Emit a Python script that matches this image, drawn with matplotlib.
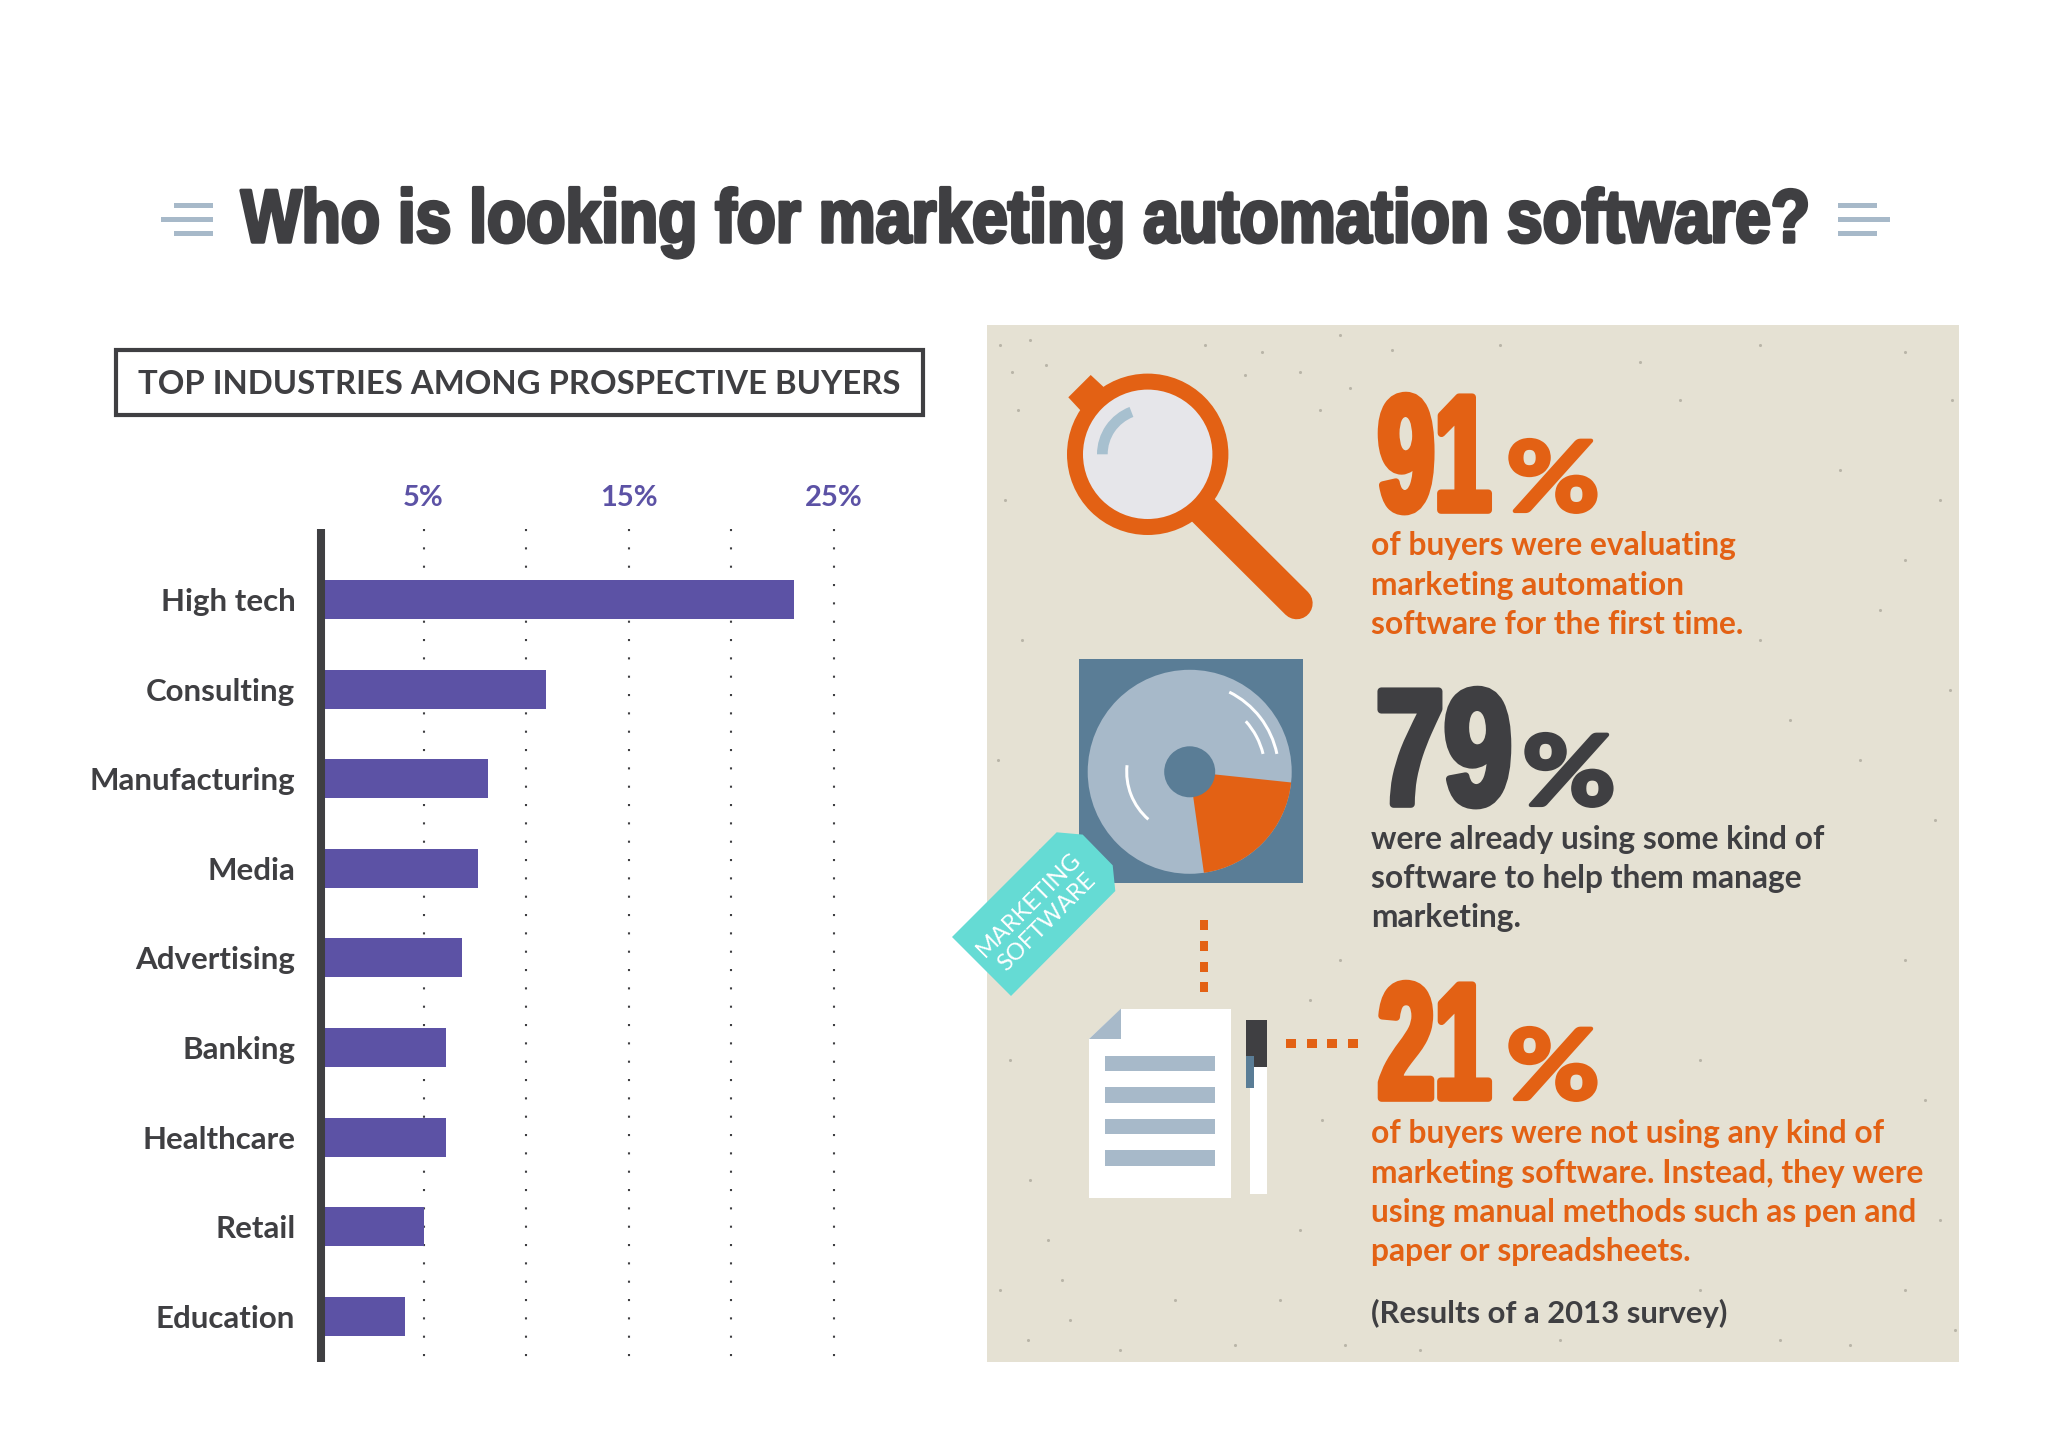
import matplotlib
matplotlib.use('Agg')
import matplotlib.pyplot as plt
import matplotlib.patheffects as pe
from matplotlib.patches import Circle, Polygon, Rectangle, Wedge
from matplotlib.text import Text
from matplotlib.transforms import Affine2D, Bbox

W, H = 2048, 1440

# colours
DARK = '#3f3f42'
ORANGE = '#e36114'
PURPLE = '#5c52a5'
PANEL = '#e5e1d3'
STEEL = '#5a7d96'
PALE = '#a7b9c9'
TEAL = '#65dbd4'

DISPLAY = ['Liberation Sans', 'DejaVu Sans']
BODY = ['Lato', 'DejaVu Sans']

# data
industries = ['High tech', 'Consulting', 'Manufacturing', 'Media', 'Advertising',
              'Banking', 'Healthcare', 'Retail', 'Education']
shares = [23.07, 10.97, 8.14, 7.66, 6.9, 6.1, 6.1, 5.0, 4.1]
grid_values = [5, 10, 15, 20, 25]
tick_values = [5, 15, 25]
tick_labels = ['5%', '15%', '25%']

title = 'Who is looking for marketing automation software?'
box_title = 'TOP INDUSTRIES AMONG PROSPECTIVE BUYERS'

stat_91 = ['of buyers were evaluating', 'marketing automation', 'software for the first time.']
stat_79 = ['were already using some kind of', 'software to help them manage', 'marketing.']
stat_21 = ['of buyers were not using any kind of', 'marketing software. Instead, they were',
           'using manual methods such as pen and', 'paper or spreadsheets.']
footnote = '(Results of a 2013 survey)'

# a few paper flecks on the panel, (x, y) in pixels
flecks = [(1000, 345), (1012, 372), (1030, 340), (1245, 375), (1262, 352), (1300, 372),
          (1320, 410), (1392, 350), (1500, 345), (1640, 362), (1760, 345), (1905, 352),
          (1952, 400), (1940, 500), (1880, 610), (1950, 690), (1790, 720), (1935, 820),
          (1005, 500), (1022, 640), (998, 760), (1040, 850), (1010, 1060), (1030, 1180),
          (1000, 1290), (1028, 1340), (1070, 1320), (1120, 1350), (1175, 1300), (1235, 1345),
          (1300, 1230), (1420, 1350), (1560, 1340), (1700, 1290), (1850, 1345), (1955, 1330),
          (1925, 1100), (1700, 1060), (1340, 960), (1322, 1120), (1018, 410), (1046, 365),
          (1205, 345), (1340, 335), (1350, 388), (1680, 400), (1840, 470), (1905, 560),
          (1760, 640), (1860, 760), (1905, 960), (1940, 1220), (1048, 1240), (1062, 1280),
          (1280, 1300), (1345, 1345), (1490, 1315), (1780, 1340), (1905, 1290), (1310, 1000)]


class Squeeze(pe.AbstractPathEffect):
    """Narrows the glyphs around x0 and thickens them, no narrow bold font is installed."""

    def __init__(self, sx, x0, stroke, color):
        super().__init__()
        self.sx, self.x0, self.stroke, self.color = sx, x0, stroke, color

    def draw_path(self, renderer, gc, tpath, affine, rgbFace=None):
        narrow = affine + Affine2D().translate(-self.x0, 0).scale(self.sx, 1).translate(self.x0, 0)
        gc0 = renderer.new_gc()
        gc0.copy_properties(gc)
        gc0.set_linewidth(self.stroke)
        gc0.set_foreground(self.color)
        renderer.draw_path(gc0, tpath, narrow, rgbFace)
        gc0.restore()


class NarrowText(Text):
    sx = 1.0
    pivot = 0.0

    def get_window_extent(self, renderer=None, dpi=None):
        bb = super().get_window_extent(renderer, dpi)
        p = self.pivot
        return Bbox.from_extents(p + (bb.x0 - p) * self.sx, bb.y0, p + (bb.x1 - p) * self.sx, bb.y1)


def narrow_text(ax, fig, s, x0, x1, baseline, size, family, color, stroke, anchor='left'):
    # fit the text between x0 and x1 pixels, pixels and display units agree at this dpi
    pivot = {'left': x0, 'center': (x0 + x1) / 2, 'right': x1}[anchor]
    t = NarrowText(pivot, baseline, s, ha=anchor, va='baseline', fontsize=size, fontweight='bold',
                   family=family, color=color, zorder=3)
    ax.add_artist(t)
    width = t.get_window_extent(fig.canvas.get_renderer()).width
    t.sx = (x1 - x0) / width
    t.pivot = pivot
    t.set_path_effects([Squeeze(t.sx, pivot, stroke, color)])
    return t


def main():
    fig = plt.figure(figsize=(W / 100, H / 100), dpi=100, facecolor='white')

    # full page layer in pixel coordinates for the illustration side
    bg = fig.add_axes([0, 0, 1, 1], zorder=0)
    bg.set_xlim(0, W)
    bg.set_ylim(H, 0)
    bg.axis('off')

    def rect(x0, y0, x1, y1, color, z=2):
        bg.add_patch(Rectangle((x0, y0), x1 - x0, y1 - y0, facecolor=color, edgecolor='none', zorder=z))

    # title with its little dashes
    narrow_text(bg, fig, title, 241, 1810, 242, 54, DISPLAY, DARK, 2.5, anchor='center')
    for x0, x1, y in [(174, 213, 205), (161, 213, 219), (174, 213, 233),
                      (1838, 1877, 205), (1838, 1890, 219), (1838, 1877, 233)]:
        rect(x0, y - 2.5, x1, y + 2.5, PALE)

    # heading box
    bg.add_patch(Rectangle((116, 350), 807, 65, facecolor='white', edgecolor=DARK, linewidth=3, zorder=2))
    bg.text(519.5, 384, box_title, ha='center', va='center', fontsize=23.7, fontweight='bold', family=BODY,
            color=DARK, zorder=3)

    # right panel
    rect(987, 325, 1959, 1362, PANEL, z=1)
    bg.scatter([f[0] for f in flecks], [f[1] for f in flecks], s=5, color='#b9b5a8', linewidths=0, zorder=1.5)

    # magnifier
    cx, cy = 1147.7, 454.3
    bg.plot([1190, 1296.7], [497, 603.3], color=ORANGE, lw=23, solid_capstyle='round', zorder=2)
    bg.add_patch(Polygon([(1068.3, 397.3), (1090.7, 375), (1105, 388.3), (1081.7, 411.7)], color=ORANGE, lw=0, zorder=2))
    bg.add_patch(Circle((cx, cy), 80.7, facecolor=ORANGE, edgecolor='none', zorder=3))
    bg.add_patch(Circle((cx, cy), 64.7, facecolor='#e6e6ea', edgecolor='none', zorder=4))
    bg.add_patch(Wedge((cx, cy), 50.7, 180, 249, width=10.7, facecolor='#a7c0cf', edgecolor='none', zorder=5))

    # disk
    dx, dy = 1189.7, 771.8
    rect(1079, 659, 1303, 883, STEEL)
    bg.add_patch(Circle((dx, dy), 102, facecolor=PALE, edgecolor='none', zorder=3))
    bg.add_patch(Wedge((dx, dy), 102, 6, 82, facecolor=ORANGE, edgecolor='none', zorder=4))
    bg.add_patch(Circle((dx, dy), 25.5, facecolor=STEEL, edgecolor='none', zorder=5))
    for r, t0, t1 in [(90.5, -63.6, -11.6), (77, -42, -13.7), (64.5, 131, 186)]:
        bg.add_patch(Wedge((dx, dy), r, t0, t1, width=3, facecolor='white', edgecolor='none', zorder=5))

    # tag
    tag = [(952, 937), (1056.7, 832.3), (1082.7, 834.6), (1112.7, 865.3), (1115.3, 891), (1011, 996)]
    bg.add_patch(Polygon(tag, facecolor=TEAL, edgecolor='none', zorder=6))
    bg.text(1038, 913, 'MARKETING\nSOFTWARE', rotation=45, rotation_mode='anchor', ha='center', va='center',
            multialignment='center', linespacing=1.2, fontsize=17, family=BODY, color='white', zorder=7)

    # connector squares
    for y0 in [920, 941, 962, 982]:
        rect(1200, y0, 1208, y0 + 9.5, ORANGE)
    for x0 in [1286, 1307, 1327, 1348]:
        rect(x0, 1038.5, x0 + 10, 1047.7, ORANGE)

    # document and pen
    bg.add_patch(Polygon([(1121, 1008.6), (1231, 1008.6), (1231, 1198), (1089, 1198), (1089, 1039)],
                         facecolor='white', edgecolor='none', zorder=2))
    bg.add_patch(Polygon([(1089, 1039), (1121, 1008.6), (1121, 1039)], facecolor=PALE, edgecolor='none', zorder=3))
    for y0 in [1055.7, 1087, 1118.5, 1150]:
        rect(1105, y0, 1215.3, y0 + 15.7, PALE, z=3)
    rect(1250.3, 1067, 1266.7, 1193.6, 'white')
    rect(1246.3, 1020, 1266.7, 1067, DARK)
    rect(1246.3, 1055.7, 1254.3, 1087.5, STEEL, z=3)

    # big numbers and their percent signs
    for num, x0, x1, base, col, p0, p1 in [('91', 1378, 1491, 510, ORANGE, 1506, 1600),
                                           ('79', 1376, 1512, 804, DARK, 1522, 1616),
                                           ('21', 1378, 1491, 1098, ORANGE, 1506, 1600)]:
        narrow_text(bg, fig, num, x0, x1, base, 118, DISPLAY, col, 5.5, anchor='right')
        narrow_text(bg, fig, '%', p0, p1, base + 1, 70, BODY, col, 3)

    # stat text, one line at a time
    for lines, y0, col in [(stat_91, 546, ORANGE), (stat_79, 839, DARK), (stat_21, 1134, ORANGE)]:
        for i, line in enumerate(lines):
            bg.text(1371, y0 + i * 39.3, line, ha='left', va='center', fontsize=22.9, fontweight='bold',
                    family=BODY, color=col, zorder=3)
    bg.text(1371, 1313, footnote, ha='left', va='center', fontsize=22.3, fontweight='bold', family=BODY,
            color=DARK, zorder=3)

    # bar chart, placed so 0% falls on the thick left axis
    ax = fig.add_axes([321 / W, 1 - 1362 / H, 529 / W, 833 / H], zorder=1)
    ax.patch.set_alpha(0)
    positions = list(range(len(industries)))
    ax.barh(positions, shares, height=0.435, color=PURPLE, zorder=2)
    ax.set_xlim(0, 25.8)
    ax.set_ylim(8.51, -0.787)

    for v in grid_values:
        ax.plot([v, v], [-0.787, 8.51], color=DARK, lw=1.5, linestyle=(0, (1, 7.8)), zorder=1)

    for side in ['top', 'right', 'bottom']:
        ax.spines[side].set_visible(False)
    ax.spines['left'].set_linewidth(5.8)
    ax.spines['left'].set_color(DARK)
    ax.spines['left'].set_capstyle('butt')
    ax.spines['left'].set_zorder(3)

    ax.xaxis.tick_top()
    ax.set_xticks(tick_values)
    ax.set_xticklabels(tick_labels, fontsize=21, fontweight='bold', family=BODY, color=PURPLE)
    ax.set_yticks(positions)
    ax.set_yticklabels(industries, fontsize=22.5, fontweight='bold', family=BODY, color=DARK)
    ax.tick_params(axis='x', length=0, pad=13)
    ax.tick_params(axis='y', length=0, pad=18.5)

    fig.savefig('out.png', dpi=100, facecolor='white')


if __name__ == '__main__':
    main()
